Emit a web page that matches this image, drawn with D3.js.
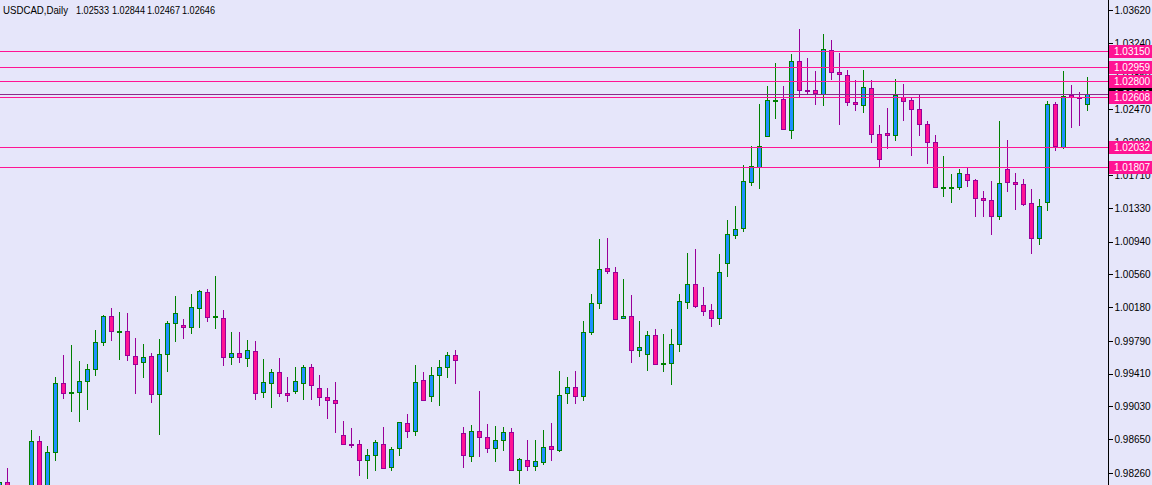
<!DOCTYPE html>
<html><head><meta charset="utf-8">
<script src="https://cdn.jsdelivr.net/npm/d3@7"></script>
<style>html,body{margin:0;padding:0;background:#E6E6FA;overflow:hidden}</style>
</head><body>
<svg id="c" width="1152" height="485"></svg>
<script>
// ---------- DATA ----------
const symbolTitle = "USDCAD,Daily";
const lastBarText = ["1.02533", "1.02844", "1.02467", "1.02646"];

const opens = [0.97950,0.98154,0.97900,0.97750,0.97970,0.98628,0.98050,0.98501,0.99299,0.99184,
0.99202,0.99323,0.99462,0.99781,1.00075,0.99903,0.99901,0.99612,0.99543,0.99612,
0.99179,0.99635,0.99994,0.99971,0.99948,1.00167,1.00353,1.00067,1.00052,0.99600,
0.99647,0.99596,0.99670,0.99202,0.99306,0.99427,0.99184,0.99214,0.99306,0.99485,
0.99242,0.99137,0.99103,0.98698,0.98593,0.98593,0.98408,0.98466,0.98593,0.98327,
0.98547,0.98837,0.98744,0.99334,0.99149,0.99392,0.99485,0.99624,0.98721,0.98461,
0.98744,0.98674,0.98554,0.98640,0.98732,0.98292,0.98408,0.98339,0.98385,0.98570,
0.98524,0.99184,0.99253,0.99153,0.99890,1.00225,1.00630,1.00584,1.00052,1.00075,
0.99681,0.99635,0.99855,0.99529,0.99531,0.99751,1.00237,1.00445,1.00202,1.00144,
1.00059,1.00695,1.01019,1.01100,1.01633,1.01806,1.02165,1.02572,1.02587,1.02235,
1.03026,1.02691,1.02691,1.02644,1.03154,1.02899,1.02864,1.02552,1.02517,1.02714,
1.02181,1.02193,1.02170,1.02610,1.02575,1.02471,1.02297,1.02089,1.01566,1.01571,
1.01568,1.01718,1.01649,1.01441,1.01417,1.01232,1.01776,1.01626,1.01603,1.01383,
1.00985,1.01401,1.02529,1.02038,1.02633,1.02613,1.02533];
const highs = [0.98160,0.98316,0.98000,0.98050,0.98755,0.98690,0.98574,0.99372,0.99627,0.99743,
0.99558,0.99523,0.99916,1.00090,1.00167,1.00125,1.00113,0.99824,0.99754,0.99650,
0.99812,1.00021,1.00310,1.00040,1.00333,1.00379,1.00387,1.00541,1.00144,0.99890,
0.99890,0.99801,0.99789,0.99581,0.99465,0.99592,0.99372,0.99488,0.99511,0.99523,
0.99396,0.99242,0.99311,0.98863,0.98782,0.98643,0.98539,0.98643,0.98794,0.98559,
0.98852,0.98944,0.99511,0.99427,0.99485,0.99566,0.99658,0.99681,0.98790,0.98817,
0.99210,0.98828,0.98805,0.98794,0.98779,0.98438,0.98640,0.98640,0.98755,0.98837,
0.99442,0.99372,0.99442,1.00021,1.00330,1.00970,1.00981,1.00642,1.00503,1.00318,
1.00021,0.99901,0.99925,0.99867,0.99925,1.00330,1.00804,1.00850,1.00414,1.00217,
1.00796,1.01190,1.01352,1.01823,1.02046,1.02532,1.02740,1.03007,1.02740,1.03111,
1.03397,1.03061,1.02911,1.03342,1.03269,1.03126,1.02922,1.02806,1.02922,1.02806,
1.02286,1.02482,1.02818,1.02764,1.02610,1.02633,1.02332,1.02170,1.01927,1.01718,
1.01776,1.01799,1.01661,1.01522,1.01637,1.02332,1.02112,1.01730,1.01661,1.01545,
1.01429,1.02563,1.02552,1.02911,1.02752,1.02671,1.02844];
const lows = [0.97900,0.97800,0.97650,0.97700,0.97900,0.97950,0.98000,0.98415,0.99133,0.98982,
0.98867,0.99005,0.99399,0.99746,0.99801,0.99584,0.99573,0.99191,0.99376,0.99086,
0.98716,0.99445,0.99793,0.99827,0.99885,0.99955,1.00024,0.99943,0.99515,0.99526,
0.99549,0.99503,0.99121,0.99144,0.99029,0.99156,0.99098,0.99191,0.99121,0.99121,
0.99052,0.98901,0.98739,0.98591,0.98559,0.98242,0.98207,0.98299,0.98313,0.98299,
0.98473,0.98674,0.98698,0.99100,0.99098,0.99052,0.99369,0.99299,0.98334,0.98404,
0.98461,0.98508,0.98404,0.98531,0.98290,0.98142,0.98292,0.98292,0.98362,0.98408,
0.98512,0.99068,0.99068,0.99106,0.99867,1.00174,1.00573,1.00038,1.00050,0.99549,
0.99619,0.99457,0.99517,0.99445,0.99295,0.99677,1.00167,1.00179,1.00093,0.99966,
0.99989,1.00545,1.00985,1.01066,1.01598,1.01563,1.02162,1.02374,1.02243,1.02142,
1.02610,1.02663,1.02529,1.02517,1.02818,1.02304,1.02517,1.02459,1.02436,1.02089,
1.01799,1.02019,1.02112,1.02350,1.01945,1.02177,1.01853,1.01566,1.01471,1.01401,
1.01545,1.01580,1.01232,1.01232,1.01024,1.01205,1.01529,1.01320,1.01367,1.00811,
1.00915,1.01309,1.02003,1.02026,1.02269,1.02293,1.02467];
const closes = [0.98154,0.97900,0.97750,0.97950,0.98628,0.98000,0.98501,0.99299,0.99184,0.99202,
0.99323,0.99462,0.99774,1.00075,0.99901,0.99908,0.99630,0.99526,0.99600,0.99172,
0.99635,0.99994,1.00110,0.99948,1.00179,1.00364,1.00063,1.00073,0.99600,0.99647,
0.99600,0.99681,0.99184,0.99311,0.99427,0.99184,0.99161,0.99323,0.99485,0.99276,
0.99137,0.99103,0.99068,0.98593,0.98591,0.98408,0.98466,0.98617,0.98316,0.98536,
0.98848,0.98744,0.99311,0.99103,0.99392,0.99485,0.99624,0.99566,0.98466,0.98744,
0.98674,0.98554,0.98640,0.98732,0.98292,0.98420,0.98339,0.98397,0.98559,0.98536,
0.99161,0.99253,0.99149,0.99890,1.00225,1.00619,1.00596,1.00040,1.00075,0.99681,
0.99716,0.99855,0.99519,0.99531,0.99751,1.00249,1.00445,1.00191,1.00140,1.00059,
1.00584,1.01024,1.01082,1.01637,1.01811,1.02043,1.02575,1.02575,1.02246,1.03026,
1.02691,1.02688,1.02656,1.03165,1.02899,1.02876,1.02552,1.02529,1.02725,1.02181,
1.01892,1.02170,1.02633,1.02563,1.02471,1.02297,1.02096,1.01568,1.01568,1.01575,
1.01730,1.01649,1.01441,1.01417,1.01232,1.01614,1.01626,1.01603,1.01378,1.00985,
1.01348,1.02529,1.02049,1.02621,1.02610,1.02610,1.02646];

const priceTicks = [1.03620,1.03240,1.02860,1.02470,1.02090,1.01710,1.01330,1.00940,
  1.00560,1.00180,0.99790,0.99410,0.99030,0.98650,0.98260];
const levelLines = [1.03150, 1.02959, 1.02800, 1.02608, 1.02032, 1.01807];
const bidPrice = 1.02646;

// ---------- STYLE ----------
const W = 1152, H = 485, axisX = 1108;
const BG = "#E6E6FA";
const bullFill = "#1E90FF", bullLine = "#008000";
const bearFill = "#FF1493", bearLine = "#990099";
const levelColor = "#FF1493";
const font = "'Liberation Sans', Arial, sans-serif";

const svg = d3.select("#c");
svg.append("rect").attr("width", W).attr("height", H).attr("fill", BG);

const bars = d3.range(opens.length).map(i => ({i, o: opens[i], h: highs[i], l: lows[i], c: closes[i]}));

const x = d3.scaleLinear().domain([0, bars.length - 1]).range([-1, 1087]);
const y = d3.scaleLinear().domain([0.98260, 1.03620]).range([473, 10]);

svg.append("defs").append("clipPath").attr("id", "plot")
  .append("rect").attr("x", 0).attr("y", 0).attr("width", axisX).attr("height", H);

const plot = svg.append("g").attr("clip-path", "url(#plot)");

const g = plot.selectAll("g.bar").data(bars).join("g").attr("class", "bar");
g.append("line")
  .attr("x1", d => Math.round(x(d.i)) + 0.5).attr("x2", d => Math.round(x(d.i)) + 0.5)
  .attr("y1", d => Math.round(y(d.h))).attr("y2", d => Math.round(y(d.l)) + 1)
  .attr("stroke", d => d.c >= d.o ? bullLine : bearLine).attr("stroke-width", 1)
  .attr("shape-rendering", "crispEdges");
g.append("rect")
  .attr("x", d => Math.round(x(d.i)) - 1.5)
  .attr("width", 4)
  .attr("y", d => Math.round(y(Math.max(d.o, d.c))) + 0.5)
  .attr("height", d => Math.max(1, Math.round(y(Math.min(d.o, d.c))) - Math.round(y(Math.max(d.o, d.c)))))
  .attr("fill", d => d.c >= d.o ? bullFill : bearFill)
  .attr("stroke", d => d.c >= d.o ? bullLine : bearLine).attr("stroke-width", 1)
  .attr("shape-rendering", "crispEdges");

// level lines
plot.selectAll("line.lvl").data(levelLines).join("line").attr("class", "lvl")
  .attr("x1", 0).attr("x2", axisX)
  .attr("y1", d => Math.round(y(d)) + 0.5).attr("y2", d => Math.round(y(d)) + 0.5)
  .attr("stroke", levelColor).attr("stroke-width", 1).attr("shape-rendering", "crispEdges");

// bid line
plot.append("line").attr("x1", 0).attr("x2", axisX)
  .attr("y1", Math.round(y(bidPrice)) + 0.5).attr("y2", Math.round(y(bidPrice)) + 0.5)
  .attr("stroke", "#8E2A8A").attr("stroke-width", 1).attr("shape-rendering", "crispEdges");

// right axis
const axis = d3.axisRight(y).tickValues(priceTicks).tickFormat(d3.format(".5f")).tickSize(4).tickPadding(2);
const ag = svg.append("g").attr("transform", `translate(${axisX + 0.5},0)`).call(axis);
ag.select(".domain").remove();
ag.selectAll(".tick line").attr("stroke", "#000").attr("shape-rendering", "crispEdges");
ag.selectAll(".tick text").attr("fill", "#000").style("font-family", font).style("font-size", "10px");
svg.append("line").attr("x1", axisX + 0.5).attr("x2", axisX + 0.5).attr("y1", 0).attr("y2", H)
  .attr("stroke", "#000").attr("shape-rendering", "crispEdges");

// bid label (black), then level labels on top
function priceLabel(p, fill) {
  const yy = Math.round(y(p));
  const gl = svg.append("g");
  gl.append("rect").attr("x", axisX + 1).attr("y", yy - 6).attr("width", W - axisX - 1).attr("height", 13)
    .attr("fill", fill);
  gl.append("text").attr("x", axisX + 6).attr("y", yy + 0.5).attr("dy", "0.35em")
    .attr("fill", "#fff").style("font-family", font).style("font-size", "10px")
    .text(d3.format(".5f")(p));
}
priceLabel(bidPrice, "#000");
levelLines.forEach(p => priceLabel(p, levelColor));

// title
const title = svg.append("g").style("font-family", font).style("font-size", "10.5px").attr("fill", "#000");
title.append("text").attr("x", 3).attr("y", 14).attr("textLength", 65).attr("lengthAdjust", "spacingAndGlyphs").text(symbolTitle);
const numX = [76, 112, 147, 182];
lastBarText.forEach((t, k) => title.append("text").attr("x", numX[k]).attr("y", 14)
  .attr("textLength", 33).attr("lengthAdjust", "spacingAndGlyphs").text(t));
</script>
</body></html>
